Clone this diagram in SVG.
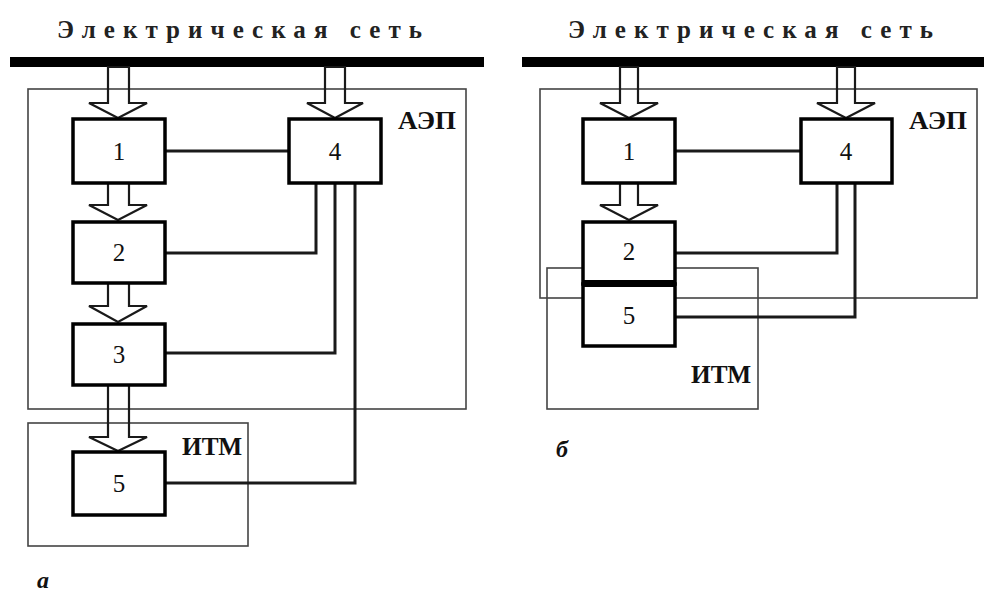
<svg xmlns="http://www.w3.org/2000/svg" width="984" height="592" viewBox="0 0 984 592">
<style>
.bg{fill:#fff}
.title{font-family:"Liberation Serif","Times New Roman","DejaVu Serif",serif;font-weight:bold;font-size:25px;fill:#222}
.grp{fill:none;stroke:#444;stroke-width:1.6}
.glabel{font-family:"Liberation Serif","Times New Roman","DejaVu Serif",serif;font-weight:bold;font-size:25px;fill:#111}
.bus{fill:#000}
.box{fill:#fff;stroke:#000;stroke-width:3.5}
.num{font-family:"Liberation Serif","Times New Roman","DejaVu Serif",serif;font-size:25px;fill:#111;text-anchor:middle}
.wire{fill:none;stroke:#1a1a1a;stroke-width:3}
.harrow{fill:none;stroke:#1a1a1a;stroke-width:2.2;stroke-linejoin:miter}
.tag{font-family:"Liberation Serif","Times New Roman","DejaVu Serif",serif;font-weight:bold;font-style:italic;font-size:24px;fill:#111}
</style>
<rect class="bg" x="0" y="0" width="984" height="592"/>

<!-- Diagram a -->
<g id="a-network">
<text class="title" x="57" y="38" textLength="365" lengthAdjust="spacing">Электрическая сеть</text>
<rect class="bus" x="10" y="57" width="474" height="10"/>
</g>
<g id="a-aep">
<rect class="grp" x="28" y="89" width="438" height="320"/>
<text class="glabel" x="398" y="129" textLength="58" lengthAdjust="spacingAndGlyphs">АЭП</text>
</g>
<g id="a-itm">
<rect class="grp" x="28" y="423" width="220" height="123"/>
<text class="glabel" x="182" y="455" textLength="60" lengthAdjust="spacingAndGlyphs">ИТМ</text>
</g>
<g id="a-connectors">
<path class="wire" d="M165,151 H289"/>
<path class="wire" d="M316,183 V253 H165"/>
<path class="wire" d="M335,183 V353 H165"/>
<path class="wire" d="M355,183 V483 H165"/>
<polygon class="harrow" points="108,67 108,103 89,103 118,118 147,103 129,103 129,67"/>
<polygon class="harrow" points="325,67 325,103 307,103 335,118 363,103 345,103 345,67"/>
<polygon class="harrow" points="108,183 108,205 89,205 118,220 147,205 129,205 129,183"/>
<polygon class="harrow" points="108,283 108,306 89,306 118,322 147,306 129,306 129,283"/>
<polygon class="harrow" points="108,385 108,437 89,437 118,451 147,437 129,437 129,385"/>
</g>
<g id="a-node1"><rect class="box" x="73" y="119" width="92" height="64"/><text class="num" x="119" y="160">1</text></g>
<g id="a-node4"><rect class="box" x="289" y="119" width="92" height="64"/><text class="num" x="335" y="160">4</text></g>
<g id="a-node2"><rect class="box" x="73" y="222" width="92" height="61"/><text class="num" x="119" y="261">2</text></g>
<g id="a-node3"><rect class="box" x="73" y="324" width="92" height="61"/><text class="num" x="119" y="363">3</text></g>
<g id="a-node5"><rect class="box" x="73" y="452" width="92" height="63"/><text class="num" x="119" y="492">5</text></g>
<text class="tag" x="37" y="588">а</text>

<!-- Diagram b -->
<g id="b-network">
<text class="title" x="568" y="38" textLength="365" lengthAdjust="spacing">Электрическая сеть</text>
<rect class="bus" x="522" y="57" width="462" height="10"/>
</g>
<g id="b-aep">
<rect class="grp" x="540" y="89" width="437" height="209"/>
<text class="glabel" x="909" y="129" textLength="58" lengthAdjust="spacingAndGlyphs">АЭП</text>
</g>
<g id="b-itm">
<rect class="grp" x="547" y="268" width="211" height="141"/>
<text class="glabel" x="691" y="383" textLength="60" lengthAdjust="spacingAndGlyphs">ИТМ</text>
</g>
<g id="b-connectors">
<path class="wire" d="M675,151 H801"/>
<path class="wire" d="M837,183 V253 H675"/>
<path class="wire" d="M855,183 V317 H675"/>
<polygon class="harrow" points="620,67 620,103 600,103 629,118 658,103 638,103 638,67"/>
<polygon class="harrow" points="837,67 837,103 817,103 846,118 875,103 855,103 855,67"/>
<polygon class="harrow" points="620,183 620,205 600,205 629,220 658,205 638,205 638,183"/>
</g>
<g id="b-node1"><rect class="box" x="583" y="119" width="92" height="64"/><text class="num" x="629" y="160">1</text></g>
<g id="b-node4"><rect class="box" x="801" y="119" width="91" height="64"/><text class="num" x="846" y="160">4</text></g>
<g id="b-node2"><rect class="box" x="583" y="222" width="92" height="62"/><text class="num" x="629" y="260">2</text></g>
<g id="b-node5"><rect class="box" x="583" y="284" width="92" height="62"/><text class="num" x="629" y="324">5</text></g>
<rect class="bus" x="583" y="280" width="92" height="7"/>
<text class="tag" x="556" y="457">б</text>
</svg>
